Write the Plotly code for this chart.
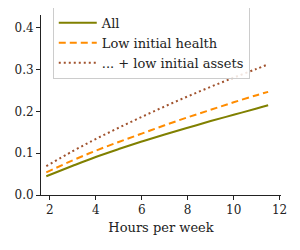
import plotly.graph_objects as go

hours = [1.85, 3, 4, 5, 6, 7, 8, 9, 10, 11, 11.5]
all_vals = [0.045, 0.070, 0.091, 0.110, 0.128, 0.145, 0.161, 0.177, 0.192, 0.207, 0.215]
low_health = [0.054, 0.083, 0.106, 0.127, 0.147, 0.167, 0.186, 0.204, 0.222, 0.239, 0.247]
low_assets = [0.069, 0.105, 0.134, 0.161, 0.187, 0.212, 0.236, 0.259, 0.281, 0.302, 0.313]
names = ["All", "Low initial health", "... + low initial assets"]
x_ticks = [2, 4, 6, 8, 10, 12]
y_ticks = [0.0, 0.1, 0.2, 0.3, 0.4]

font_family = "DejaVu Serif, Liberation Serif, serif"

fig = go.Figure()
fig.add_trace(go.Scatter(x=hours, y=all_vals, mode="lines", name=names[0],
                         line=dict(color="#808000", width=2, shape="spline")))
fig.add_trace(go.Scatter(x=hours, y=low_health, mode="lines", name=names[1],
                         line=dict(color="#ff8c00", width=2, dash="7px,4px", shape="spline")))
fig.add_trace(go.Scatter(x=hours, y=low_assets, mode="lines", name=names[2],
                         line=dict(color="#a0522d", width=2, dash="2px,3px", shape="spline")))

axis_common = dict(showline=True, linecolor="#222222", linewidth=1, ticks="outside",
                   ticklen=4, tickcolor="#222222", tickwidth=1, showgrid=False,
                   zeroline=False, tickfont=dict(family=font_family, size=12, color="#222222"))

# page body has an 8px default margin, so the figure is 8px smaller and margins shifted
fig.update_layout(
    width=292, height=242,
    margin=dict(l=33, r=19, t=7, b=55, autoexpand=False),
    paper_bgcolor="white", plot_bgcolor="white",
    font=dict(family=font_family, color="#222222"),
    xaxis=dict(range=[1.62, 12.06], tickvals=x_ticks,
               ticktext=[str(v) for v in x_ticks],
               title=dict(text="Hours per week", font=dict(family=font_family, size=13, color="#222222"),
                          standoff=6),
               **axis_common),
    yaxis=dict(range=[0, 0.431], tickvals=y_ticks,
               ticktext=[f"{v:.1f}" for v in y_ticks], **axis_common),
    legend=dict(x=0.049, y=1.045, xanchor="left", yanchor="top",
                bgcolor="rgba(255,255,255,0.85)", bordercolor="#cccccc", borderwidth=1,
                font=dict(family=font_family, size=13, color="#222222"),
                tracegroupgap=0, itemwidth=38),
    showlegend=True,
)

fig.write_html("out.html")
